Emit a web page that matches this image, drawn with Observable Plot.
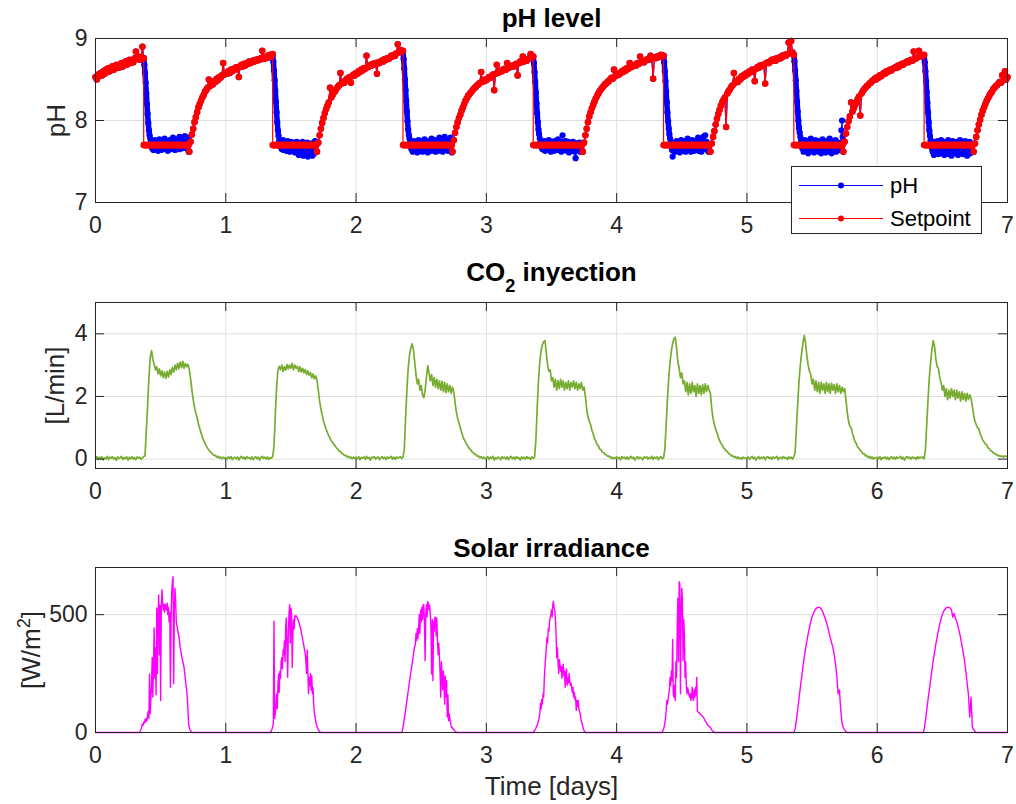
<!DOCTYPE html>
<html><head><meta charset="utf-8">
<script src="https://cdn.jsdelivr.net/npm/d3@7"></script>
<script src="https://cdn.jsdelivr.net/npm/@observablehq/plot@0.6"></script>
<style>
body{margin:0;background:#fff;}
#fig{position:relative;width:1016px;height:804px;overflow:hidden;background:#fff;font-family:"Liberation Sans",Arial,Helvetica,sans-serif;}
#fig > svg{position:absolute;left:0;}
</style></head><body><div id="fig"></div>
<script>
// ---------- labels ----------
const panelTitles = ["pH level", "CO2 inyection", "Solar irradiance"];
const yLabels = ["pH", "[L/min]", "[W/m2]"];
const xLabel = "Time [days]";
const xTicks = [0, 1, 2, 3, 4, 5, 6, 7];
const pHTicks = [7, 8, 9];
const co2Ticks = [0, 2, 4];
const irrTicks = [0, 500];
const legendLabels = ["pH", "Setpoint"];
const legendColors = ["#0000ff", "#ff0000"];

// ---------- pH panel ----------
const setpointLow = 7.7;
const riseStep = 0.01;
const riseEnd = [0.37, 1.36, 2.36, 3.36, 4.36, 5.36, 6.36, 7.0]; // drop times (last = end of record)
const rise0 = [8.53,8.50,8.56,8.54,8.58,8.55,8.60,8.57,8.62,8.59,
  8.64,8.60,8.63,8.66,8.62,8.65,8.68,8.64,8.67,8.65,
  8.70,8.66,8.69,8.72,8.68,8.71,8.74,8.70,8.73,8.71,
  8.76,8.84,8.75,8.78,8.74,8.77,8.90,8.76];
const rise1 = [7.62,7.74,7.83,7.90,7.98,8.04,8.10,8.16,8.20,8.24,
  8.28,8.31,8.35,8.37,8.40,8.50,8.42,8.45,8.44,8.48,
  8.47,8.51,8.49,8.53,8.52,8.55,8.70,8.56,8.58,8.57,
  8.60,8.58,8.62,8.60,8.63,8.62,8.65,8.64,8.53,8.66,
  8.68,8.66,8.69,8.67,8.70,8.69,8.72,8.70,8.71,8.73,
  8.72,8.74,8.73,8.75,8.74,8.76,8.85,8.75,8.77,8.76,
  8.79,8.77,8.80,8.78,8.81];
const rise2 = [7.62,7.73,7.82,7.90,7.97,8.03,8.09,8.14,8.18,8.22,
  8.40,8.28,8.31,8.34,8.36,8.39,8.41,8.43,8.58,8.45,
  8.47,8.46,8.49,8.51,8.50,8.53,8.46,8.54,8.56,8.55,
  8.58,8.57,8.60,8.59,8.62,8.61,8.64,8.63,8.79,8.65,
  8.66,8.68,8.67,8.69,8.68,8.70,8.57,8.71,8.70,8.72,
  8.73,8.72,8.75,8.74,8.76,8.75,8.77,8.79,8.78,8.80,
  8.79,8.82,8.93,8.83,8.86,8.84,8.85];
const rise3 = [7.62,7.76,7.85,7.92,7.98,8.03,8.07,8.12,8.16,8.20,
  8.24,8.27,8.30,8.32,8.34,8.36,8.38,8.40,8.41,8.43,
  8.44,8.46,8.59,8.47,8.48,8.50,8.49,8.51,8.53,8.52,
  8.54,8.56,8.37,8.57,8.68,8.58,8.59,8.61,8.60,8.62,
  8.63,8.62,8.70,8.64,8.65,8.66,8.67,8.66,8.68,8.69,
  8.55,8.70,8.72,8.71,8.78,8.72,8.74,8.73,8.75,8.76,
  8.81,8.77,8.78];
const rise4 = [7.62,7.73,7.82,7.90,7.98,8.05,8.10,8.15,8.19,8.23,
  8.27,8.30,8.33,8.36,8.38,8.40,8.42,8.44,8.45,8.47,
  8.48,8.50,8.52,8.51,8.62,8.54,8.55,8.57,8.56,8.58,
  8.60,8.59,8.62,8.61,8.64,8.63,8.70,8.65,8.66,8.67,
  8.68,8.67,8.70,8.69,8.78,8.71,8.72,8.71,8.73,8.74,
  8.75,8.74,8.79,8.76,8.51,8.77,8.76,8.78,8.77,8.79,
  8.80,8.78,8.79];
const rise5 = [7.62,7.72,7.80,7.87,7.95,8.02,8.08,8.13,8.18,8.22,
  8.25,8.28,7.92,8.33,8.36,8.38,8.41,8.43,8.58,8.46,
  8.48,8.47,8.51,8.50,8.54,8.53,8.56,8.55,8.58,8.57,
  8.60,8.59,8.62,8.61,8.48,8.63,8.65,8.64,8.67,8.66,
  8.68,8.67,8.45,8.70,8.71,8.70,8.72,8.74,8.73,8.75,
  8.73,8.76,8.75,8.77,8.76,8.79,8.78,8.80,8.79,8.81,
  8.95,8.82,8.97,8.83,8.80];
const rise6 = [7.62,7.74,7.84,7.92,7.99,8.05,8.22,8.11,8.15,8.19,
  8.22,8.26,8.29,8.06,8.33,8.36,8.38,8.40,8.42,8.43,
  8.45,8.46,8.48,8.49,8.51,8.50,8.53,8.52,8.55,8.54,
  8.56,8.58,8.57,8.60,8.59,8.61,8.62,8.61,8.63,8.64,
  8.65,8.64,8.67,8.66,8.68,8.69,8.68,8.70,8.71,8.72,
  8.71,8.73,8.74,8.73,8.84,8.75,8.76,8.77,8.85,8.78,
  8.80,8.79,8.80];
const rise7 = [7.62,7.72,7.80,7.88,7.95,8.01,8.07,8.12,8.16,8.20,
  8.24,8.27,8.30,8.33,8.35,8.38,8.40,8.42,8.43,8.45,
  8.47,8.46,8.55,8.49,8.60,8.50,8.53];
// measured pH during the low-setpoint periods, step 0.005 day from each drop
const lowStep = 0.005;
const dropSamples = 10; // samples of the fast descent after each drop
const pHLow1 = [8.76,8.68,8.58,8.46,8.33,8.20,8.08,7.97,7.88,7.82,
  7.78,7.74,7.70,7.66,7.73,7.64,7.69,7.76,7.65,7.71,
  7.67,7.75,7.63,7.70,7.77,7.66,7.72,7.64,7.69,7.75,
  7.66,7.71,7.78,7.65,7.70,7.67,7.74,7.63,7.72,7.68,
  7.76,7.65,7.70,7.73,7.66,7.79,7.68,7.71,7.64,7.75,
  7.69,7.66,7.77,7.70,7.65,7.80,7.68,7.74,7.66,7.72,
  7.78,7.67,7.73,7.81,7.69,7.75,7.66,7.79,7.70,7.62];
const pHLow2 = [8.80,8.72,8.61,8.49,8.36,8.23,8.10,7.98,7.88,7.81,
  7.76,7.72,7.68,7.74,7.65,7.70,7.76,7.64,7.71,7.67,
  7.73,7.63,7.69,7.75,7.66,7.72,7.62,7.70,7.74,7.65,
  7.71,7.64,7.68,7.73,7.61,7.69,7.66,7.74,7.63,7.70,
  7.58,7.67,7.72,7.60,7.69,7.64,7.74,7.57,7.66,7.71,
  7.59,7.68,7.63,7.73,7.56,7.65,7.70,7.58,7.67,7.62,
  7.72,7.57,7.66,7.70,7.60,7.75,7.64,7.62];
const pHLow3 = [8.84,8.75,8.63,8.50,8.37,8.24,8.11,7.99,7.89,7.82,
  7.78,7.74,7.69,7.65,7.72,7.62,7.68,7.75,7.64,7.70,
  7.66,7.74,7.61,7.69,7.76,7.65,7.71,7.63,7.68,7.74,
  7.62,7.70,7.67,7.77,7.64,7.71,7.66,7.73,7.61,7.69,
  7.75,7.65,7.70,7.63,7.78,7.67,7.72,7.64,7.69,7.76,
  7.62,7.71,7.66,7.74,7.63,7.70,7.79,7.65,7.72,7.67,
  7.75,7.62,7.70,7.66,7.80,7.64,7.71,7.68,7.76,7.63,
  7.70,7.66,7.74,7.79,7.65,7.61];
const pHLow4 = [8.78,8.70,8.59,8.47,8.34,8.21,8.09,7.98,7.89,7.83,
  7.78,7.73,7.68,7.74,7.65,7.71,7.67,7.75,7.63,7.70,
  7.66,7.73,7.64,7.70,7.76,7.65,7.72,7.62,7.69,7.74,
  7.66,7.71,7.63,7.75,7.68,7.64,7.72,7.66,7.77,7.64,
  7.70,7.67,7.74,7.62,7.71,7.82,7.66,7.73,7.64,7.69,
  7.75,7.63,7.70,7.66,7.74,7.61,7.69,7.72,7.65,7.71,
  7.63,7.74,7.67,7.70,7.62,7.54,7.68,7.72,7.64,7.70,
  7.66,7.73,7.62,7.69,7.65,7.62];
const pHLow5 = [8.79,8.71,8.60,8.48,8.35,8.22,8.10,7.99,7.90,7.83,
  7.78,7.73,7.68,7.64,7.56,7.70,7.65,7.73,7.62,7.69,
  7.75,7.64,7.71,7.66,7.74,7.61,7.69,7.76,7.65,7.71,
  7.63,7.72,7.67,7.75,7.62,7.70,7.66,7.78,7.64,7.71,
  7.68,7.74,7.62,7.69,7.76,7.65,7.72,7.63,7.70,7.75,
  7.64,7.71,7.67,7.79,7.63,7.70,7.66,7.74,7.62,7.72,
  7.68,7.80,7.65,7.71,7.82,7.66,7.74,7.69,7.64,7.62,
  7.70,7.63];
const pHLow6 = [8.80,8.72,8.61,8.49,8.36,8.23,8.11,8.00,7.91,7.85,
  7.80,7.75,7.70,7.66,7.74,7.62,7.70,7.76,7.64,7.71,
  7.67,7.75,7.60,7.69,7.73,7.65,7.78,7.63,7.70,7.66,
  7.74,7.61,7.69,7.76,7.64,7.71,7.67,7.75,7.62,7.70,
  7.65,7.73,7.60,7.68,7.77,7.63,7.71,7.66,7.74,7.61,
  7.69,7.75,7.64,7.70,7.62,7.78,7.66,7.72,7.60,7.69,
  7.74,7.63,7.71,7.67,7.76,7.62,7.70,7.65,7.73,7.64,
  7.68,7.72,7.66,7.88,8.00,7.80];
const pHLow7 = [8.79,8.71,8.60,8.48,8.35,8.22,8.10,7.98,7.88,7.81,
  7.76,7.71,7.66,7.62,7.72,7.58,7.68,7.74,7.61,7.70,
  7.64,7.75,7.59,7.68,7.72,7.62,7.76,7.60,7.69,7.65,
  7.74,7.58,7.67,7.73,7.61,7.70,7.64,7.76,7.59,7.68,
  7.63,7.72,7.57,7.69,7.75,7.61,7.67,7.73,7.60,7.70,
  7.64,7.74,7.58,7.68,7.62,7.76,7.60,7.71,7.65,7.73,
  7.59,7.69,7.63,7.75,7.61,7.70,7.57,7.66,7.72,7.62,
  7.74,7.60,7.68,7.64,7.70,7.62];

// ---------- CO2 panel (step 0.01 day) ----------
const co2Step = 0.01;
const co2Day0 = [0.04,0.08,-0.01,0.06,0.02,0.07,-0.03,0.05,0.01,0.09,
  -0.02,0.06,0.03,0.08,0.0,0.05,-0.04,0.07,0.02,0.04,
  0.09,-0.01,0.05,0.02,0.07,-0.03,0.06,0.01,0.08,0.0,
  0.05,-0.02,0.07,0.03,0.06,-0.01,0.04,0.08,0.1,0.9,
  1.7,2.6,3.25,3.46,3.2,3.02,2.85,2.95,2.72,2.88,
  2.66,2.82,2.6,2.78,2.58,2.8,2.62,2.85,2.7,2.92,
  2.78,3.0,2.85,3.06,2.88,3.1,2.92,3.12,2.9,3.05,
  2.95,3.02,2.86,2.55,2.2,1.9,1.65,1.47,1.32,1.12,
  0.98,0.84,0.7,0.6,0.5,0.42,0.35,0.29,0.24,0.2,
  0.16,0.12,0.12,0.06,0.09,0.03,0.07,0.01,0.06,0.02];
const co2Day1 = [0.05,0.0,0.07,0.02,0.08,-0.02,0.04,0.06,0.01,0.07,
  -0.03,0.05,0.09,0.02,0.06,-0.01,0.08,0.03,0.05,0.0,
  0.07,-0.02,0.04,0.08,0.01,0.06,-0.03,0.05,0.09,0.02,
  0.06,0.0,0.07,-0.01,0.05,0.03,0.08,0.4,1.4,2.3,
  2.82,2.96,2.86,3.0,2.8,2.95,2.84,3.02,2.88,3.0,
  2.9,3.06,2.85,3.0,2.9,2.96,2.8,2.95,2.78,2.9,
  2.75,2.86,2.7,2.82,2.68,2.76,2.6,2.72,2.56,2.66,
  2.52,2.2,1.85,1.6,1.4,1.22,1.08,0.95,0.85,0.74,
  0.67,0.58,0.53,0.46,0.42,0.35,0.32,0.26,0.24,0.18,
  0.17,0.12,0.12,0.07,0.09,0.04,0.07,0.01,0.06,0.02];
const co2Day2 = [0.06,0.01,0.08,-0.02,0.05,0.03,0.07,-0.01,0.09,0.02,
  0.05,-0.03,0.06,0.04,0.08,0.0,0.05,0.07,-0.02,0.04,
  0.08,0.01,0.06,-0.02,0.07,0.03,0.05,0.09,0.0,0.06,
  -0.01,0.07,0.03,0.05,0.08,0.02,0.06,0.3,1.3,2.2,
  2.9,3.3,3.55,3.68,3.5,3.1,2.7,2.4,2.55,2.2,
  2.35,2.05,1.96,2.2,2.6,2.98,2.75,2.5,2.7,2.35,
  2.6,2.3,2.55,2.25,2.5,2.2,2.48,2.15,2.45,2.12,
  2.4,2.15,2.35,2.1,2.3,2.15,1.8,1.5,1.3,1.15,
  1.0,0.85,0.72,0.62,0.55,0.46,0.4,0.33,0.3,0.23,
  0.21,0.15,0.15,0.09,0.1,0.04,0.08,0.02,0.06,0.01];
const co2Day3 = [0.03,0.08,-0.01,0.06,0.02,0.09,-0.03,0.05,0.01,0.07,
  0.04,-0.02,0.08,0.03,0.06,0.0,0.07,-0.02,0.05,0.09,
  0.01,0.06,-0.01,0.08,0.03,0.05,-0.03,0.07,0.02,0.06,
  0.0,0.08,0.03,0.05,-0.01,0.07,0.02,0.06,0.6,1.6,
  2.5,3.1,3.45,3.65,3.75,3.78,3.4,3.0,2.8,2.85,
  2.5,2.6,2.3,2.55,2.2,2.5,2.25,2.55,2.3,2.5,
  2.2,2.45,2.25,2.5,2.2,2.45,2.3,2.5,2.25,2.45,
  2.2,2.4,2.25,2.45,2.2,2.3,2.0,1.6,1.35,1.2,
  1.1,0.92,0.8,0.65,0.58,0.46,0.42,0.32,0.3,0.22,
  0.21,0.15,0.14,0.09,0.1,0.04,0.07,0.01,0.05,0.02];
const co2Day4 = [0.07,0.02,0.05,-0.02,0.08,0.03,0.06,0.0,0.07,-0.01,
  0.05,0.09,0.02,0.06,-0.03,0.04,0.08,0.01,0.06,0.03,
  -0.02,0.07,0.04,0.08,0.0,0.05,0.02,0.09,-0.01,0.06,
  0.03,0.07,-0.02,0.05,0.08,0.01,0.04,0.3,1.1,1.9,
  2.6,3.1,3.45,3.7,3.85,3.89,3.55,3.1,2.9,2.6,
  2.75,2.4,2.5,2.15,2.45,2.05,2.4,2.1,2.45,2.15,
  2.35,2.0,2.4,2.1,2.35,2.05,2.38,2.1,2.4,2.15,
  2.35,2.2,2.1,1.6,1.3,1.1,0.95,0.85,0.7,0.6,
  0.5,0.45,0.36,0.33,0.26,0.24,0.17,0.16,0.1,0.11,
  0.06,0.08,0.02,0.07,0.01,0.05,0.0,0.06,0.02,0.04];
const co2Day5 = [0.02,0.07,-0.01,0.05,0.09,0.01,0.06,-0.03,0.04,0.08,
  0.0,0.06,0.03,0.07,-0.02,0.05,0.08,0.02,0.06,-0.01,
  0.07,0.03,0.05,0.09,-0.02,0.04,0.06,0.01,0.08,0.03,
  0.05,-0.01,0.07,0.02,0.06,0.0,0.08,0.2,1.0,1.8,
  2.5,3.0,3.4,3.7,3.95,3.7,3.3,3.0,2.8,2.7,
  2.4,2.55,2.2,2.5,2.15,2.45,2.1,2.45,2.2,2.4,
  2.1,2.45,2.15,2.4,2.1,2.42,2.2,2.38,2.1,2.4,
  2.15,2.35,2.1,2.3,2.15,2.25,1.9,1.5,1.2,1.05,
  1.0,0.82,0.7,0.55,0.5,0.38,0.35,0.27,0.25,0.17,
  0.17,0.1,0.12,0.05,0.09,0.02,0.07,0.0,0.05,0.03];
const co2Day6 = [0.06,0.01,0.08,-0.02,0.05,0.03,0.07,0.0,0.06,-0.02,
  0.04,0.08,0.01,0.06,-0.01,0.07,0.03,0.05,0.09,0.0,
  0.06,-0.03,0.05,0.08,0.02,0.06,0.0,0.07,0.03,0.05,
  -0.01,0.08,0.02,0.06,0.04,0.07,0.01,0.3,1.1,1.9,
  2.6,3.1,3.5,3.78,3.6,3.2,2.95,2.9,2.6,2.45,
  2.2,2.35,2.0,2.25,1.9,2.2,1.95,2.25,2.0,2.2,
  1.9,2.2,1.95,2.15,1.85,2.15,1.9,2.1,1.85,2.1,
  1.9,2.05,1.95,1.7,1.4,1.2,1.1,1.0,0.97,0.8,
  0.72,0.6,0.55,0.48,0.46,0.36,0.34,0.27,0.25,0.2,
  0.19,0.14,0.14,0.1,0.11,0.08,0.1,0.06,0.1,0.08];
const co2Final = 0.1;

// ---------- Solar irradiance (daylight windows) ----------
const irrNightDays = [0, 7];
const irrNight = [0, 0];
const irrStart = [0.33, 1.33, 2.34, 3.35, 4.34, 5.35, 6.34];
const irrStep = [0.005, 0.005, 0.005, 0.005, 0.005, 0.01, 0.01];
const irr1 = [0,0,2,8,15,25,35,30,45,40,
  55,45,60,50,75,90,60,248,80,140,
  200,318,150,280,444,230,360,160,528,250,
  470,584,330,540,136,520,606,560,520,542,
  510,545,530,520,549,500,530,470,510,192,
  480,591,640,661,207,520,612,560,472,450,
  440,420,410,385,360,345,330,315,300,290,
  275,250,225,200,175,150,90,35,20,12,
  6,3,1,0,0];
const irr2 = [0,0,0,3,8,15,25,40,472,60,
  80,120,164,100,200,248,170,260,230,300,
  318,270,350,330,388,300,450,486,360,234,
  420,500,542,380,528,500,276,420,480,440,
  495,490,495,490,485,478,470,460,450,440,
  425,410,395,380,365,350,335,300,250,350,
  260,164,234,200,250,180,240,164,190,120,
  80,66,50,35,25,18,12,8,4,2,
  0,0,0];
const irr3 = [0,0,0,5,20,38,57,76,95,115,
  135,155,175,195,215,235,255,272,290,310,
  330,350,365,374,420,390,440,400,444,500,
  420,520,470,530,480,542,542,460,304,500,
  542,490,555,549,520,540,500,440,248,480,
  220,470,430,490,486,410,486,380,330,380,
  320,250,150,300,248,180,260,220,120,240,
  150,220,66,160,50,80,60,40,28,20,
  20,16,12,8,5,3,1,0,0];
const irr4 = [0,0,0,3,8,12,18,25,30,40,
  50,60,80,123,100,140,120,164,150,230,
  280,320,360,402,380,440,430,470,486,500,
  520,490,540,556,530,520,486,420,318,360,
  300,250,310,290,260,280,230,270,290,240,
  260,192,250,270,200,230,210,250,220,200,
  210,192,170,192,150,170,140,150,94,136,
  110,136,100,90,80,60,45,39,25,15,
  8,3,0,0];
const irr5 = [0,0,2,8,15,25,40,60,90,136,
  120,140,164,180,234,200,260,220,395,160,
  150,200,136,300,234,450,570,300,640,630,
  164,500,612,560,304,480,416,234,300,200,
  164,190,178,160,150,165,136,150,192,145,
  136,180,150,190,160,234,90,88,85,82,
  80,76,73,70,68,66,60,55,50,45,
  40,36,32,28,26,24,20,15,11,8,
  5,3,1,0,0];
const irr6 = [0,0,15,55,100,145,192,235,280,320,
  355,388,418,445,470,490,505,517,525,530,
  532,530,524,514,500,485,468,448,425,400,
  380,360,330,290,240,164,180,96,39,20,
  10,4,0,0];
const irr7 = [0,0,10,50,95,140,180,222,265,305,
  340,375,405,435,460,482,500,514,523,529,
  532,531,528,520,490,505,485,472,450,428,
  402,370,340,305,260,210,164,66,150,24,
  12,5,0,0];

// ---------- build tables ----------
const riseArrays = [rise0, rise1, rise2, rise3, rise4, rise5, rise6, rise7];
const lowArrays = [pHLow1, pHLow2, pHLow3, pHLow4, pHLow5, pHLow6, pHLow7];
const setpoint = [], measured = [];
riseArrays.forEach((arr, k) => {
  const n = arr.length, end = riseEnd[k];
  arr.forEach((v, i) => {
    const t = end - (n - 1 - i) * riseStep;
    setpoint.push({t, v}); measured.push({t, v, cycle: k, drop: false});
  });
  if (k < lowArrays.length) {
    const next = riseArrays[k + 1];
    const nextStart = riseEnd[k + 1] - (next.length - 1) * riseStep;
    for (let i = 0; end + i * lowStep < nextStart - 1e-6; i++) setpoint.push({t: end + i * lowStep, v: setpointLow});
    lowArrays[k].forEach((v, i) => measured.push({t: end + i * lowStep, v, cycle: k, drop: i < dropSamples}));
  }
});
const co2Days = [co2Day0, co2Day1, co2Day2, co2Day3, co2Day4, co2Day5, co2Day6];
const co2 = [];
co2Days.forEach((arr, d) => arr.forEach((v, i) => co2.push({t: d + i * co2Step, v})));
co2.push({t: 7, v: co2Final});
const irrWindows = [irr1, irr2, irr3, irr4, irr5, irr6, irr7];
const irr = [{t: irrNightDays[0], v: irrNight[0]}];
irrWindows.forEach((arr, k) => arr.forEach((v, i) => irr.push({t: irrStart[k] + i * irrStep[k], v})));
irr.push({t: irrNightDays[1], v: irrNight[1]});

// ---------- drawing ----------
const FONT = '"Liberation Sans", Arial, Helvetica, sans-serif';
const W = 1016, ML = 95, MR = 9, TICK = 9, AX = "#262626", GRID = "#dfdfdf";
const fig = document.getElementById("fig");

function panel({top, height, mt, mb, yDomain, yTicks, marks, title, titleDy, ylabel, ylabelDx, extra = []}) {
  const plotH = height - mt - mb, plotW = W - ML - MR;
  const svg = Plot.plot({
    width: W, height, marginTop: mt, marginBottom: mb, marginLeft: ML, marginRight: MR,
    x: {domain: [0, 7]},
    y: {domain: yDomain},
    style: {fontFamily: FONT, fontSize: "23px", color: AX, background: "transparent", overflow: "visible"},
    marks: [
      Plot.ruleX(xTicks, {stroke: GRID, strokeWidth: 1}),
      Plot.ruleY(yTicks, {stroke: GRID, strokeWidth: 1}),
      ...marks,
      Plot.ruleX(xTicks, {insetTop: plotH - TICK, stroke: AX}),
      Plot.ruleX(xTicks, {insetBottom: plotH - TICK, stroke: AX}),
      Plot.ruleY(yTicks, {insetRight: plotW - TICK, stroke: AX}),
      Plot.ruleY(yTicks, {insetLeft: plotW - TICK, stroke: AX}),
      Plot.frame({stroke: AX, strokeWidth: 1}),
      Plot.axisX({ticks: xTicks, tickSize: 0, tickPadding: 14, fontSize: 23, label: null, tickFormat: d => String(d), fill: AX}),
      Plot.axisY({ticks: yTicks, tickSize: 0, tickPadding: 8, fontSize: 23, label: null, tickFormat: d => String(d), fill: AX}),
      Plot.text([title], {text: d => d, frameAnchor: "top", lineAnchor: "middle", textAnchor: "middle", dy: titleDy, fontSize: 26, fontWeight: "bold", fill: "#000"}),
      Plot.text([ylabel], {text: d => d, frameAnchor: "left", lineAnchor: "middle", textAnchor: "middle", rotate: -90, dx: ylabelDx, fontSize: 26, fill: AX}),
      ...extra
    ]
  });
  svg.style.top = top + "px";
  fig.appendChild(svg);
  return svg;
}

const p1 = panel({
  top: 0, height: 250, mt: 38, mb: 48, yDomain: [7, 9], yTicks: pHTicks,
  title: panelTitles[0], titleDy: -19.8, ylabel: yLabels[0], ylabelDx: -38.5,
  marks: [
    Plot.line(measured, {x: "t", y: "v", stroke: legendColors[0], strokeWidth: 1.2}),
    Plot.line(measured.filter(d => d.drop), {x: "t", y: "v", z: "cycle", stroke: legendColors[0], strokeWidth: 5.5, strokeLinecap: "round"}),
    Plot.dot(measured, {x: "t", y: "v", r: 3.1, fill: legendColors[0]}),
    Plot.line(setpoint, {x: "t", y: "v", stroke: legendColors[1], strokeWidth: 1.2}),
    Plot.dot(setpoint, {x: "t", y: "v", r: 3.3, fill: legendColors[1]})
  ]
});
const p2 = panel({
  top: 250, height: 265, mt: 52, mb: 47, yDomain: [-0.3, 5], yTicks: co2Ticks,
  title: panelTitles[1], titleDy: -30.3, ylabel: yLabels[1], ylabelDx: -39.5,
  marks: [Plot.line(co2, {x: "t", y: "v", stroke: "#77ac30", strokeWidth: 1.7})]
});
const p3 = panel({
  top: 515, height: 289, mt: 52, mb: 72, yDomain: [0, 700], yTicks: irrTicks,
  title: panelTitles[2], titleDy: -19.3, ylabel: yLabels[2], ylabelDx: -64,
  marks: [Plot.line(irr, {x: "t", y: "v", stroke: "#ff00ff", strokeWidth: 1.4})],
  extra: [Plot.text([xLabel], {text: d => d, frameAnchor: "bottom", lineAnchor: "middle", textAnchor: "middle", dy: 54.4, fontSize: 26, fill: AX})]
});

// sub/superscripts
function rich(svg, plain, parts) {
  d3.select(svg).selectAll("text").filter(function () { return this.textContent === plain; }).each(function () {
    const t = d3.select(this);
    t.text(null);
    parts.forEach(p => {
      const s = t.append("tspan").text(p.text);
      if (p.dy) s.attr("dy", p.dy);
      if (p.size) s.attr("font-size", p.size);
    });
  });
}
rich(p2, panelTitles[1], [{text: "CO"}, {text: "2", dy: 11, size: "70%"}, {text: " inyection", dy: -11}]);
rich(p3, yLabels[2], [{text: "[W/m"}, {text: "2", dy: -10, size: "70%"}, {text: "]", dy: 10}]);

// legend (drawn over panel 1, as in the original)
const leg = d3.create("svg").attr("width", 192).attr("height", 70)
  .style("position", "absolute").style("left", "791px").style("top", "166px")
  .style("font-family", FONT);
leg.append("rect").attr("x", 0.5).attr("y", 0.5).attr("width", 190).attr("height", 67)
  .attr("fill", "#fff").attr("stroke", AX);
legendLabels.forEach((lab, i) => {
  const y = 19.5 + i * 33;
  leg.append("line").attr("x1", 8).attr("x2", 92).attr("y1", y).attr("y2", y)
    .attr("stroke", legendColors[i]).attr("stroke-width", 1.2);
  leg.append("circle").attr("cx", 50).attr("cy", y).attr("r", 3).attr("fill", legendColors[i]);
  leg.append("text").attr("x", 99).attr("y", y).attr("dy", "0.35em").attr("font-size", 22)
    .attr("fill", "#000").text(lab);
});
fig.appendChild(leg.node());
</script></body></html>
